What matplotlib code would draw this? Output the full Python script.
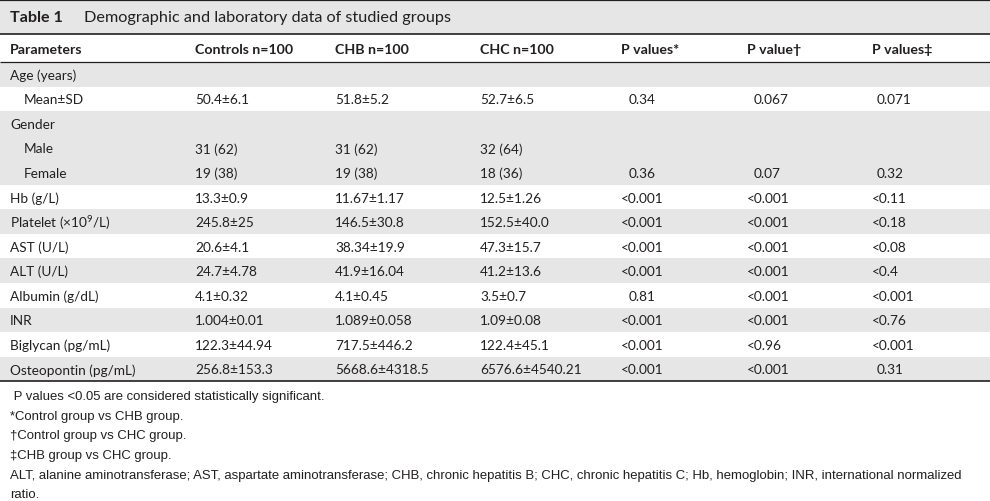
import matplotlib
matplotlib.use("Agg")
import matplotlib.pyplot as plt
from matplotlib.patches import Rectangle

# table content
title_num = "Table 1"
title_txt = "Demographic and laboratory data of studied groups"
headers = ["Parameters", "Controls n=100", "CHB n=100", "CHC n=100",
           "P values*", "P value\u2020", "P values\u2021"]
params = ["Age (years)", "Mean\u00b1SD", "Gender", "Male", "Female", "Hb (g/L)",
          "Platelet (\u00d710$^{9}$/L)", "AST (U/L)", "ALT (U/L)", "Albumin (g/dL)",
          "INR", "Biglycan (pg/mL)", "Osteopontin (pg/mL)"]
indent = [0, 1, 0, 1, 1, 0, 0, 0, 0, 0, 0, 0, 0]
shaded = [1, 0, 1, 1, 1, 0, 1, 0, 1, 0, 1, 0, 1]
controls = ["", "50.4\u00b16.1", "", "31 (62)", "19 (38)", "13.3\u00b10.9", "245.8\u00b125",
            "20.6\u00b14.1", "24.7\u00b14.78", "4.1\u00b10.32", "1.004\u00b10.01",
            "122.3\u00b144.94", "256.8\u00b1153.3"]
chb = ["", "51.8\u00b15.2", "", "31 (62)", "19 (38)", "11.67\u00b11.17", "146.5\u00b130.8",
       "38.34\u00b119.9", "41.9\u00b116.04", "4.1\u00b10.45", "1.089\u00b10.058",
       "717.5\u00b1446.2", "5668.6\u00b14318.5"]
chc = ["", "52.7\u00b16.5", "", "32 (64)", "18 (36)", "12.5\u00b11.26", "152.5\u00b140.0",
       "47.3\u00b115.7", "41.2\u00b113.6", "3.5\u00b10.7", "1.09\u00b10.08",
       "122.4\u00b145.1", "6576.6\u00b14540.21"]
p_ctrl_chb = ["", "0.34", "", "", "0.36", "<0.001", "<0.001", "<0.001", "<0.001",
              "0.81", "<0.001", "<0.001", "<0.001"]
p_ctrl_chc = ["", "0.067", "", "", "0.07", "<0.001", "<0.001", "<0.001", "<0.001",
              "<0.001", "<0.001", "<0.96", "<0.001"]
p_chb_chc = ["", "0.071", "", "", "0.32", "<0.11", "<0.18", "<0.08", "<0.4",
             "<0.001", "<0.76", "<0.001", "0.31"]
footnotes = [" P values <0.05 are considered statistically significant.",
             "*Control group vs CHB group.",
             "\u2020Control group vs CHC group.",
             "\u2021CHB group vs CHC group.",
             "ALT, alanine aminotransferase; AST, aspartate aminotransferase; CHB, chronic hepatitis B; "
             "CHC, chronic hepatitis C; Hb, hemoglobin; INR, international normalized",
             "ratio."]

BODY = ["Lato", "DejaVu Sans"]
NOTE = ["Liberation Sans", "DejaVu Sans"]
INK = "#231f20"
GREY = "#e6e6e6"
plt.rcParams["mathtext.fontset"] = "custom"
plt.rcParams["mathtext.rm"] = "Lato"

fig = plt.figure(figsize=(9.9, 5.02), dpi=100)
ax = fig.add_axes([0, 0, 1, 1])
ax.set_xlim(0, 990)
ax.set_ylim(502, 0)
ax.axis("off")

# title band
ax.add_patch(Rectangle((0, 0), 990, 35, color=GREY, lw=0))
ax.text(10, 18, title_num, family=BODY, weight="bold", fontsize=11.6, color=INK, va="center")
ax.text(84, 18, title_txt, family=BODY, fontsize=11.7, color=INK, va="center")

col_x = [10, 195, 335, 480, 621, 747, 872]
ax.hlines(0.8, 0, 990, color=INK, lw=1.6)
ax.hlines(35, 0, 990, color=INK, lw=1.2)
for x, h in zip(col_x, headers):
    ax.text(x, 49.5, h, family=BODY, weight="bold", fontsize=10.2, color=INK, va="center")
ax.hlines(63, 0, 990, color=INK, lw=0.9)

top, rh = 63, 24.55
for i, name in enumerate(params):
    y0 = top + i * rh
    if shaded[i]:
        ax.add_patch(Rectangle((0, y0), 990, rh, color=GREY, lw=0))
    yc = y0 + rh / 2 + 0.5
    ax.text(10 + 14 * indent[i], yc, name, family=BODY, fontsize=9.8, color=INK, va="center")
    for x, v in zip(col_x[1:4], (controls[i], chb[i], chc[i])):
        ax.text(x, yc, v, family=BODY, fontsize=9.8, color=INK, va="center")
    for x, off, v in zip(col_x[4:], (8, 7, 5), (p_ctrl_chb[i], p_ctrl_chc[i], p_chb_chc[i])):
        if v:
            ax.text(x if v.startswith("<") else x + off, yc, v, family=BODY,
                    fontsize=9.8, color=INK, va="center")
ax.hlines(top + len(params) * rh, 0, 990, color=INK, lw=1.2)

note_y = [397, 417, 436, 456, 476, 495]
for y, t in zip(note_y, footnotes):
    ax.text(10, y, t, family=NOTE, fontsize=9.45, color=INK, va="center")

fig.savefig("out.png", dpi=100, facecolor="white")
